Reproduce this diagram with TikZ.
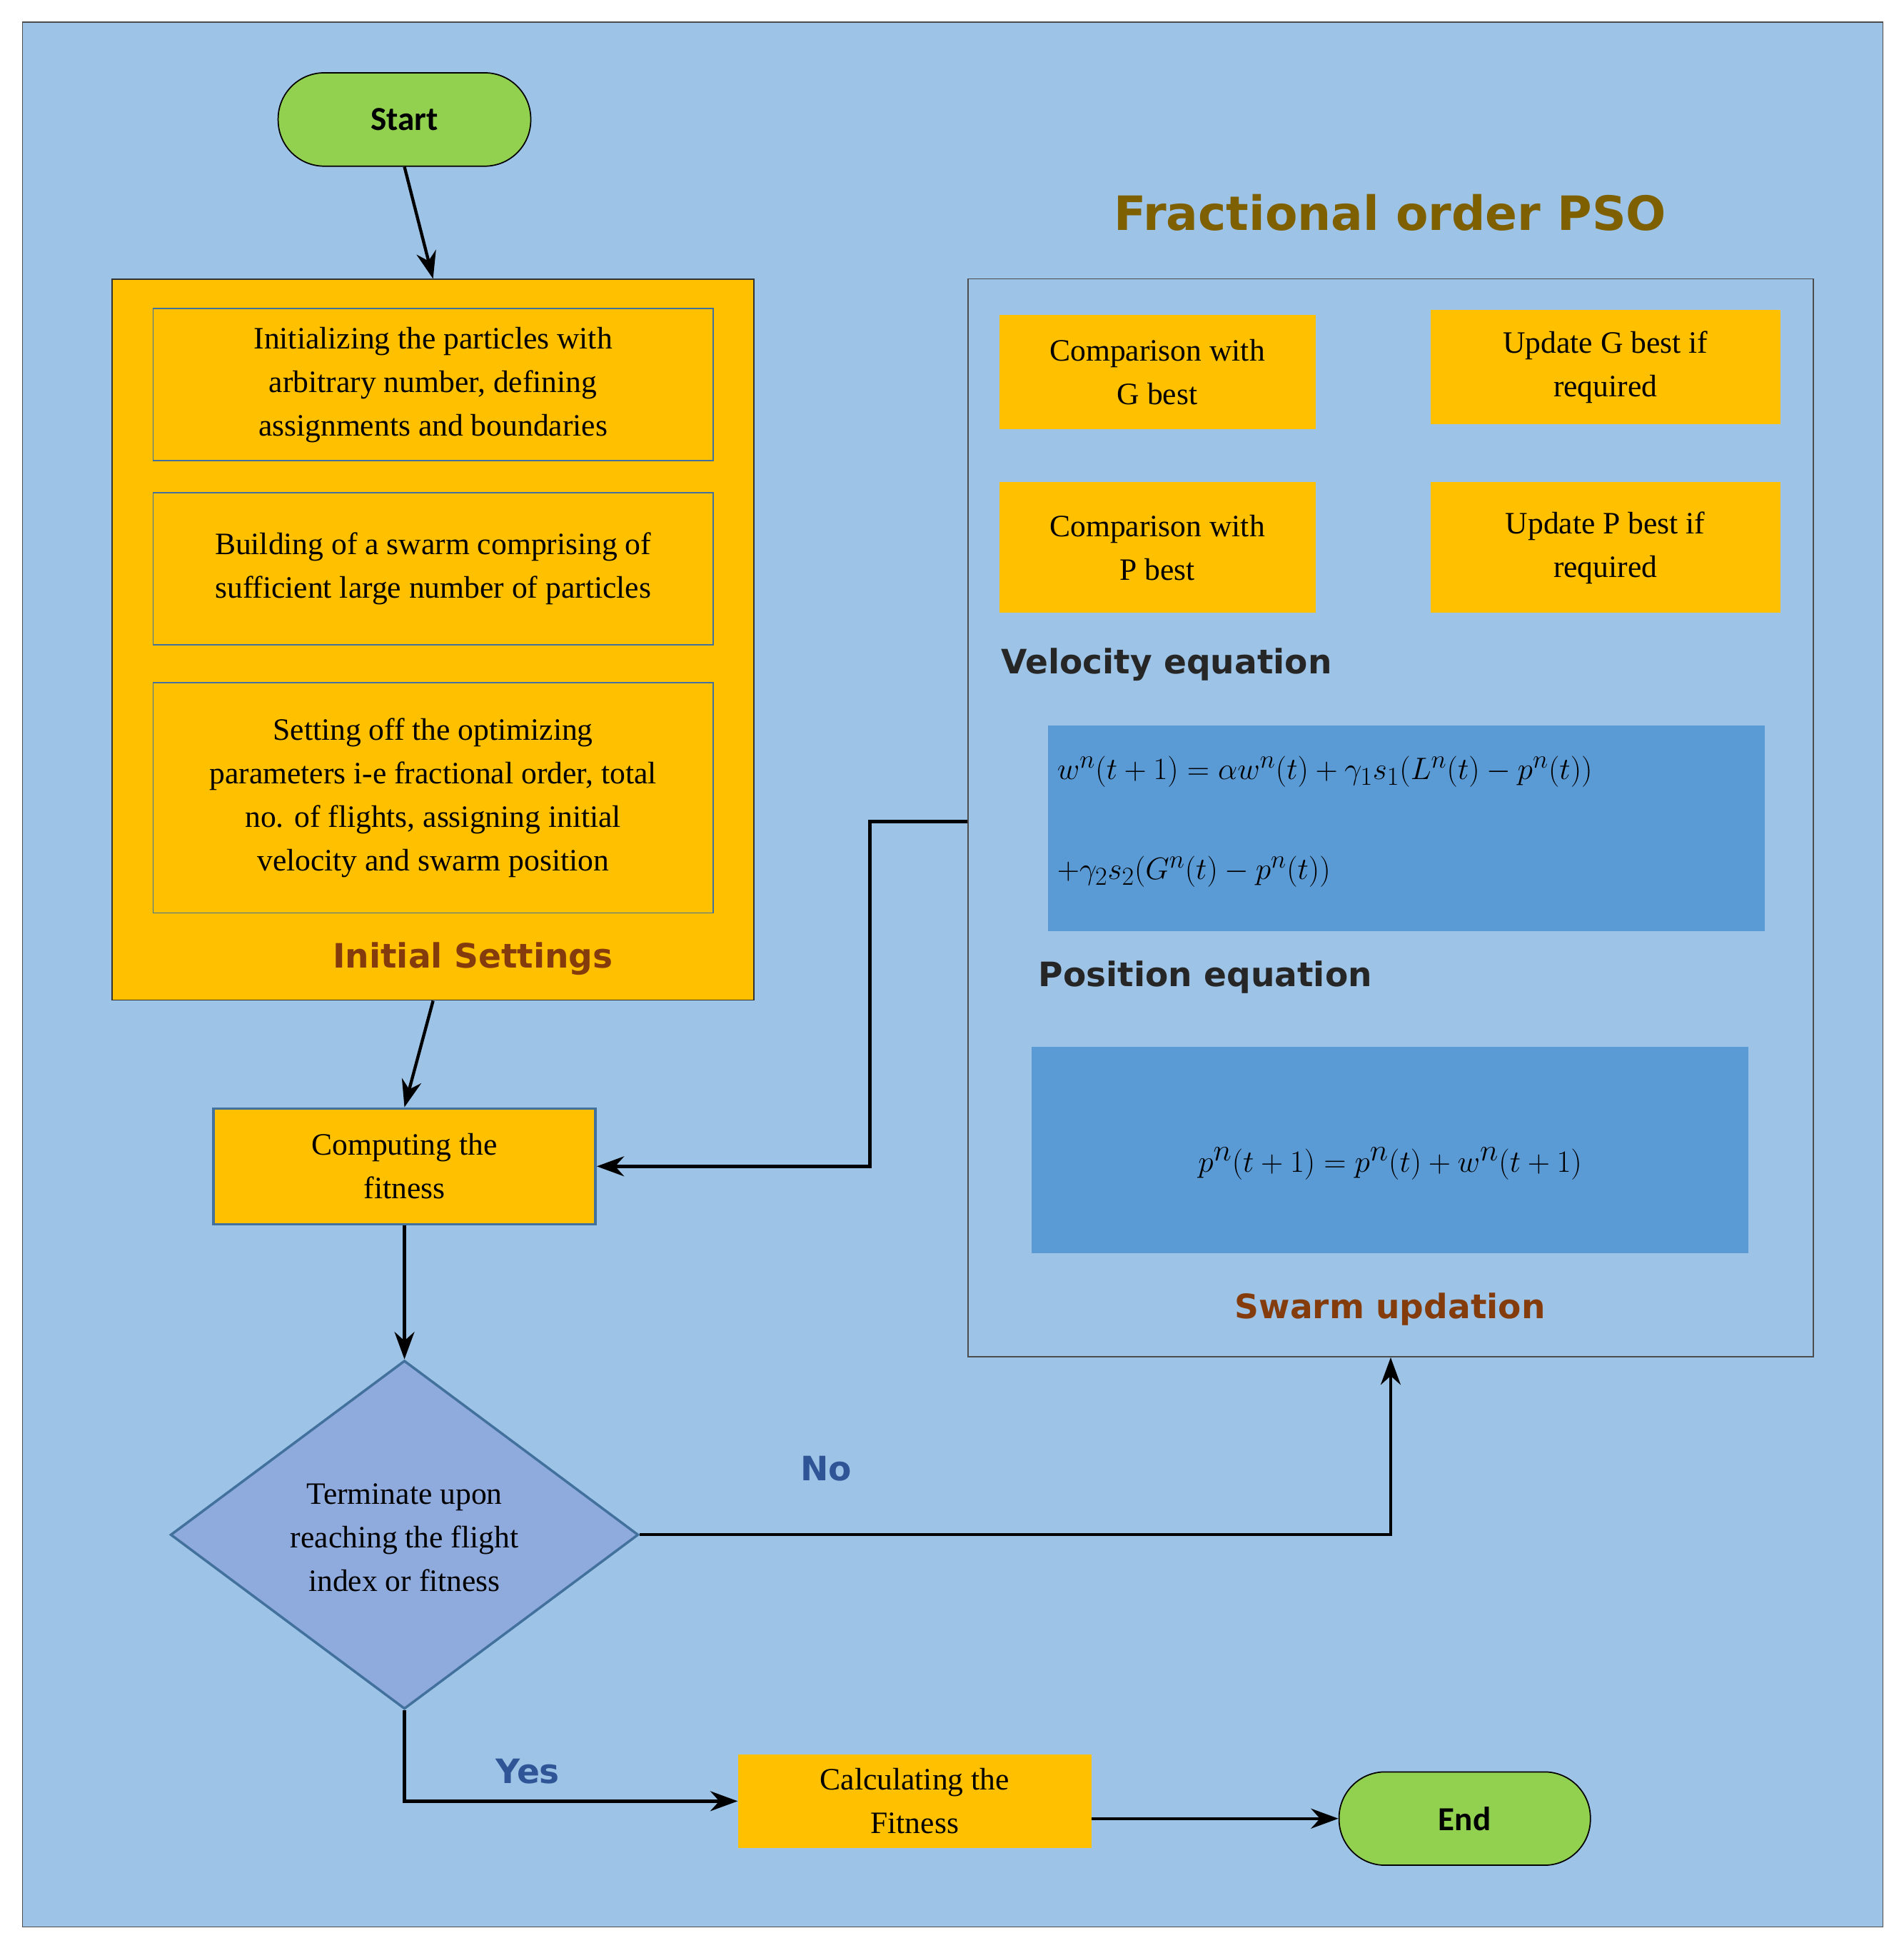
\documentclass[tikz,border=0pt]{standalone}
\usepackage{fontspec}
\setmainfont{Liberation Serif}
\newfontfamily\hsans{DejaVu Sans}
\newfontfamily\csans{Carlito}
\usetikzlibrary{shapes.geometric,arrows.meta}
\definecolor{bg}{HTML}{9DC3E6}
\definecolor{org}{HTML}{FFC000}
\definecolor{grn}{HTML}{92D050}
\definecolor{bdr}{HTML}{41719C}
\definecolor{dia}{HTML}{8FAADC}
\definecolor{eqb}{HTML}{5B9BD5}
\definecolor{brn}{HTML}{843C0C}
\definecolor{gold}{HTML}{7F6000}
\definecolor{yn}{HTML}{2F5597}
\definecolor{dk}{HTML}{262626}
\begin{document}
\begin{tikzpicture}[x=1pt,y=-1pt,
  txt/.style={font=\fontsize{25}{35}\selectfont,align=center},
  box/.style={draw=bdr,line width=1.2pt,fill=org,txt},
  obox/.style={fill=org,txt,inner sep=0},
  term/.style={draw=black,line width=1pt,fill=grn,rounded corners=37pt,font=\csans\bfseries\fontsize{27}{32}\selectfont},
  arr/.style={line width=2.5pt,-{Stealth[length=22pt,width=16pt]}},
  lbl/.style={font=\hsans\bfseries\fontsize{27}{32}\selectfont}]
\useasboundingbox (0,0) rectangle (1530,1565);
\fill[bg,draw=black!70,line width=1pt] (18,18) rectangle (1513,1548);
\node[term,minimum width=203pt,minimum height=75pt] (start) at (325,96) {Start};
\node[draw=black!80,line width=1pt,fill=org,minimum width=516pt,minimum height=579pt] (init) at (348,514) {};
\node[draw=bdr,line width=1pt,minimum width=450pt,minimum height=122pt,txt] (b1) at (348,309) {Initializing the particles with\\arbitrary number, defining\\assignments and boundaries};
\node[draw=bdr,line width=1pt,minimum width=450pt,minimum height=122pt,txt] (b2) at (348,457) {Building of a swarm comprising of\\sufficient large number of particles};
\node[draw=bdr,line width=1pt,minimum width=450pt,minimum height=185pt,txt] (b3) at (348,641) {Setting off the optimizing\\parameters i-e fractional order, total\\no. of flights, assigning initial\\velocity and swarm position};
\node[lbl,text=brn] (il) at (380,770) {Initial Settings};
\node[box,line width=2pt,minimum width=307pt,minimum height=93pt] (comp) at (325,937) {Computing the\\fitness};
\node[diamond,draw=bdr,line width=2pt,fill=dia,minimum width=376pt,minimum height=280pt,inner sep=0,txt,aspect=1.34] (dec) at (325,1233) {};
\node[txt] at (325,1235) {Terminate upon\\reaching the flight\\index or fitness};
\node[obox,minimum width=284pt,minimum height=75pt] (calc) at (735,1447) {Calculating the\\Fitness};
\node[term,minimum width=202pt,minimum height=75pt] (end) at (1177,1461) {End};
\node[draw=black!70,line width=1pt,minimum width=679pt,minimum height=866pt] (sw) at (1117.5,657) {};
\node[font=\hsans\bfseries\fontsize{38}{44}\selectfont,text=gold] (tit) at (1117,171) {Fractional order PSO};
\node[obox,minimum width=254pt,minimum height=92pt] (cg) at (930,299) {Comparison with\\G best};
\node[obox,minimum width=281pt,minimum height=92pt] (ug) at (1290,295) {Update G best if\\required};
\node[obox,minimum width=254pt,minimum height=105pt] (cp) at (930,440) {Comparison with\\P best};
\node[obox,minimum width=281pt,minimum height=105pt] (up) at (1290,440) {Update P best if\\required};
\node[lbl,text=dk,anchor=west] (ve) at (801,534) {Velocity equation};
\node[fill=eqb,minimum width=576pt,minimum height=165pt] (veb) at (1130,665.5) {};
\node[anchor=west,font=\fontsize{28}{34}\selectfont,text=black] at (846,620) {$w^n(t+1)=\alpha w^n(t)+\gamma_1 s_1\Big(L^n(t)-p^n(t)\Big)$};
\node[anchor=west,font=\fontsize{28}{34}\selectfont,text=black] at (846,700) {$+\gamma_2 s_2\Big(G^n(t)-p^n(t)\Big)$};
\node[lbl,text=dk,anchor=west] (pe) at (831,785) {Position equation};
\node[fill=eqb,minimum width=576pt,minimum height=166pt] (peb) at (1117,924) {};
\node[font=\fontsize{46}{52}\selectfont] at (1117,935) {$p^n(t+1)=p^n(t)+w^n(t+1)$};
\node[lbl,text=brn] (su) at (1117,1052) {Swarm updation};
\node[lbl,text=yn] (no) at (664,1180) {No};
\node[lbl,text=yn] (yes) at (424,1423) {Yes};
\coordinate (c1) at (699,660);
\draw[arr] (start.south) -- (init.north);
\draw[arr] (init.south) -- (comp.north);
\draw[arr] (comp.south) -- (dec.north);
\draw[arr] (dec.south) |- (calc.west);
\draw[arr] (calc.east |- end.west) -- (end.west);
\draw[arr] (dec.east) -| (sw.south);
\draw[arr] (sw.west |- c1) -- (c1) |- (comp.east);
\end{tikzpicture}
\end{document}
